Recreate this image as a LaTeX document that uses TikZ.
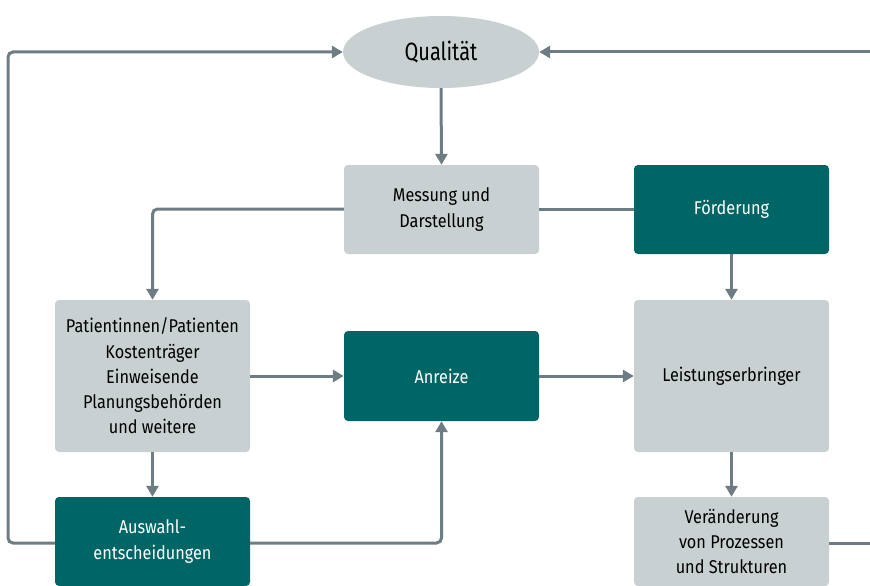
\documentclass[tikz,border=0pt]{standalone}
\usepackage{fontspec}
\setmainfont[FakeStretch=0.88]{Fira Sans}
\newfontfamily\qfont[FakeStretch=0.8]{Fira Sans}
\usetikzlibrary{arrows.meta,shapes.geometric}
\definecolor{boxgray}{HTML}{C8D0D1}
\definecolor{teal}{HTML}{006665}
\definecolor{linegray}{HTML}{6E7C83}
\begin{document}
\begin{tikzpicture}[x=1pt,y=-1pt,
  base/.style={rectangle,rounded corners=4pt,minimum width=195pt,align=center,inner sep=0pt,
    font=\fontsize{18.5}{25.3}\selectfont},
  graybox/.style={base,fill=boxgray,text=black},
  tealbox/.style={base,fill=teal,text=white},
  conn/.style={draw=linegray,line width=3pt,rounded corners=5pt},
  arr/.style={conn,-{Triangle[width=12pt,length=11pt]}}]
\useasboundingbox (0,0) rectangle (870,586);
\node[ellipse,fill=boxgray,minimum width=196pt,minimum height=72pt,inner sep=0pt,
  font=\qfont\fontsize{25}{28}\selectfont] (q) at (441,52) {Qualität};
\node[graybox,minimum height=89pt] (mess) at (441.5,209.5) {Messung und\\Darstellung};
\node[tealbox,minimum height=89pt] (foer) at (731.5,209.5) {Förderung};
\node[graybox,minimum height=152pt] (pat) at (152.5,376) {Patientinnen/Patienten\\Kostenträger\\Einweisende\\Planungsbehörden\\und weitere};
\node[tealbox,minimum height=90pt] (anr) at (441.5,376) {Anreize};
\node[graybox,minimum height=152pt] (leist) at (731.5,376) {Leistungserbringer};
\node[tealbox,minimum height=89pt] (ausw) at (152.5,541.5) {Auswahl-\\entscheidungen};
\node[graybox,minimum height=89pt] (ver) at (731.5,541.5) {Veränderung\\von Prozessen\\und Strukturen};
\coordinate (redgeb) at (870,543);
\coordinate (redget) at (870,52);
\draw[arr] (q.south) -- (mess.north);
\draw[arr] (mess.west |- 0,209) -| (pat.north);
\draw[conn] (mess.east |- 0,209) -- (foer.west |- 0,209);
\draw[arr] (foer.south) -- (leist.north);
\draw[arr] (pat.east) -- (anr.west);
\draw[arr] (anr.east) -- (leist.west);
\draw[arr] (leist.south) -- (ver.north);
\draw[arr] (pat.south) -- (ausw.north);
\draw[arr] (ausw.east |- 0,543) -| (anr.south);
\draw[arr] (ausw.west |- 0,543) -- (8,543) |- (q.west);
\draw[conn] (ver.east |- 0,543) -- (redgeb);
\draw[arr] (redget) -- (q.east);
\end{tikzpicture}
\end{document}
